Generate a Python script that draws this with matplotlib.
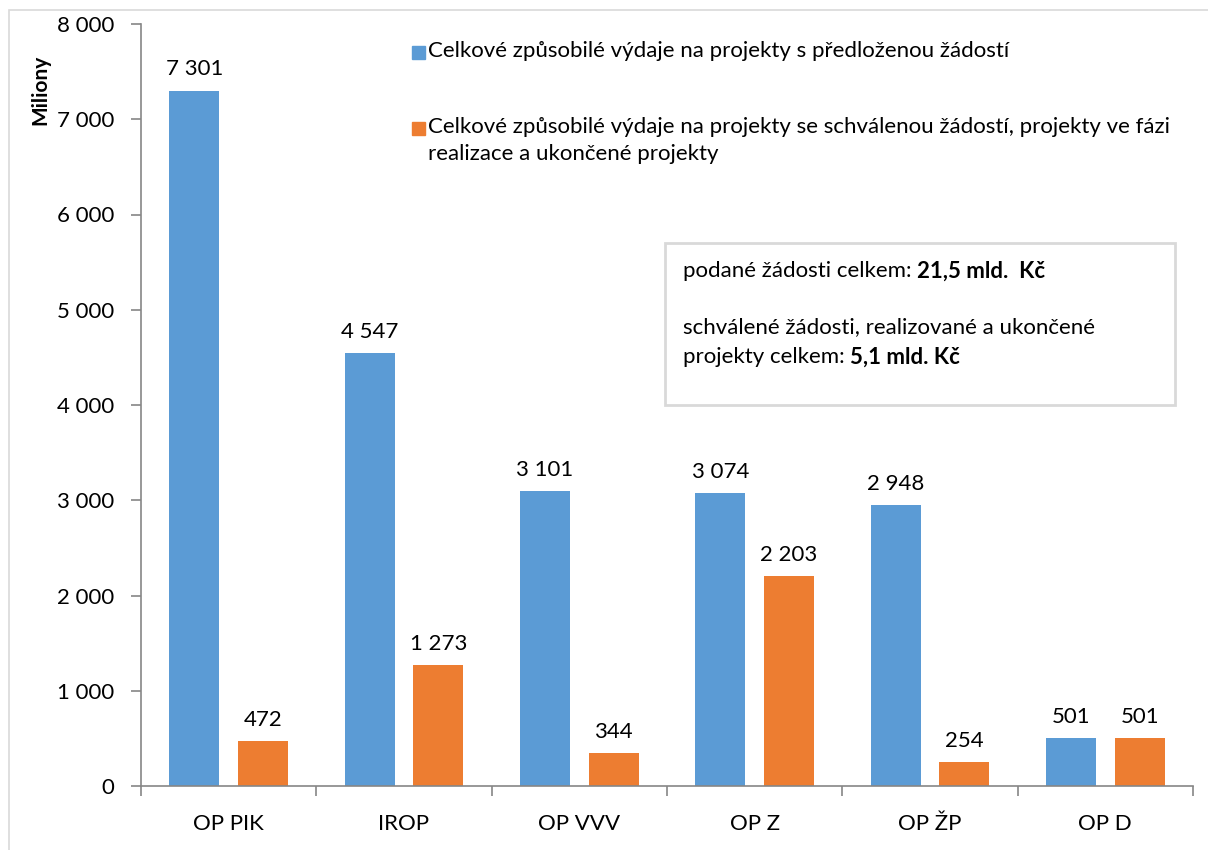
import numpy as np
import matplotlib
matplotlib.use('Agg')
import matplotlib.pyplot as plt
from matplotlib.patches import Rectangle
from matplotlib.ticker import FuncFormatter, FixedLocator

# data
categories = ['OP PIK', 'IROP', 'OP VVV', 'OP Z', 'OP ŽP', 'OP D']
submitted = [7301, 4547, 3101, 3074, 2948, 501]
approved = [472, 1273, 344, 2203, 254, 501]
series_labels = [
    'Celkové způsobilé výdaje na projekty s předloženou žádostí',
    'Celkové způsobilé výdaje na projekty se schválenou žádostí, projekty ve fázi\nrealizace a ukončené projekty',
]
box_lines = [
    ('podané žádosti celkem: ', '21,5 mld.  Kč'),
    ('schválené žádosti, realizované a ukončené', ''),
    ('projekty celkem: ', '5,1 mld. Kč'),
]

BLUE = '#5B9BD5'
ORANGE = '#ED7D31'
GRID = '#868686'

plt.rcParams['font.family'] = ['Lato', 'DejaVu Sans']
FS = 16

W, H = 1208, 850
fig = plt.figure(figsize=(W / 100, H / 100), dpi=100)

def px(x, y):
    # pixel (from top-left) -> figure fraction
    return x / W, 1 - y / H

# outer chart frame
x0, y0 = px(9, 10)
fig.patches.append(Rectangle((x0, -0.1), 1.2, y0 + 0.1, transform=fig.transFigure,
                             fill=False, ec='#d9d9d9', lw=1.2))

ax = fig.add_axes([141 / W, 1 - 786 / H, (1193 - 141) / W, (786 - 24) / H])

x = np.arange(len(categories))
w = 0.285
off = 0.196
b1 = ax.bar(x - off, submitted, w, color=BLUE, zorder=2)
b2 = ax.bar(x + off, approved, w, color=ORANGE, zorder=2)

fmt = lambda v: f'{int(v):,}'.replace(',', ' ')
for bars, vals in ((b1, submitted), (b2, approved)):
    for r, v in zip(bars, vals):
        ax.annotate(fmt(v), (r.get_x() + r.get_width() / 2, v), xytext=(0, 8),
                    textcoords='offset points', ha='center', va='bottom', fontsize=FS)

ax.set_xlim(-0.5, len(categories) - 0.5)
ax.set_ylim(0, 8000)
ax.set_yticks(np.arange(0, 8001, 1000))
ax.yaxis.set_major_formatter(FuncFormatter(lambda v, p: fmt(v)))
ax.set_xticks(x)
ax.set_xticklabels(categories)
ax.xaxis.set_minor_locator(FixedLocator(np.arange(-0.5, len(categories), 1.0)))
ax.tick_params(axis='x', which='major', length=0, pad=20, labelsize=FS)
ax.tick_params(axis='x', which='minor', length=7, width=1.2, color=GRID, direction='out')
ax.tick_params(axis='y', length=7, width=1.2, color=GRID, pad=12, labelsize=FS)

for s in ('top', 'right'):
    ax.spines[s].set_visible(False)
for s in ('left', 'bottom'):
    ax.spines[s].set_color(GRID)
    ax.spines[s].set_linewidth(1.2)

fig.text(*px(40, 90), 'Miliony', rotation=90, ha='center', va='center',
         fontsize=15, fontweight='bold')

# legend drawn by hand
for (yy, col, lab) in ((52, BLUE, series_labels[0]), (128, ORANGE, series_labels[1])):
    sx, sy = px(412, yy + 7)
    fig.patches.append(Rectangle((sx, sy), 13 / W, 13 / H, transform=fig.transFigure,
                                 color=col))
    tx, ty = px(428, yy - 11)
    fig.text(tx, ty, lab, ha='left', va='top', fontsize=FS, linespacing=1.45)

# summary box
bx, by = px(665, 405)
fig.patches.append(Rectangle((bx, by), (1175 - 665) / W, (405 - 243) / H,
                             transform=fig.transFigure, fill=False, ec='#d9d9d9', lw=2))
fig.canvas.draw()
for yy, (normal, bold) in zip((261, 317, 347), box_lines):
    tx, ty = px(683, yy)
    t = fig.text(tx, ty, normal, ha='left', va='baseline', fontsize=FS)
    t.set_va('top')
    if bold:
        bb = t.get_window_extent(renderer=fig.canvas.get_renderer())
        fig.text(bb.x1 / W, ty, bold, ha='left', va='top', fontsize=FS,
                 fontweight='bold')

fig.savefig('out.png', dpi=100)
